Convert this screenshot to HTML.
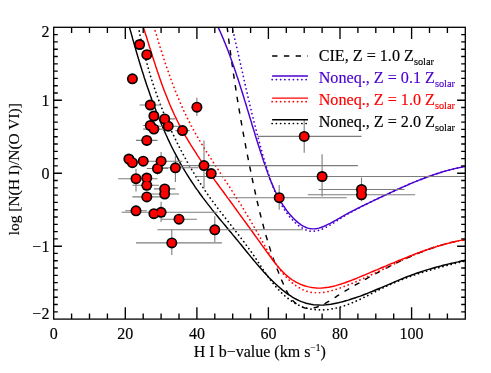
<!DOCTYPE html>
<html><head><meta charset="utf-8"><title>plot</title>
<style>html,body{margin:0;padding:0;background:#fff}body{width:491px;height:373px;position:relative;overflow:hidden;font-family:"Liberation Serif",serif}</style></head>
<body>
<svg width="491" height="373" viewBox="0 0 491 373" style="position:absolute;left:0;top:0;will-change:transform">
<rect width="491" height="373" fill="#fff"/>
<defs><clipPath id="c"><rect x="53.7" y="27.3" width="411.6" height="291.8"/></clipPath></defs>
<g clip-path="url(#c)" fill="none" stroke-linecap="butt" stroke-linejoin="round">
<path d="M227.1 26.8 L227.4 29.2 L227.7 31.5 L228.0 33.9 L228.3 36.3 L228.6 38.6 L228.9 41.0 L229.2 43.3 L229.5 45.7 L229.8 48.0 L230.2 50.4 L230.5 52.8 L230.8 55.1 L231.1 57.5 L231.5 59.8 L231.8 62.2 L232.1 64.5 L232.5 66.9 L232.8 69.3 L233.2 71.6 L233.5 74.0 L233.9 76.3 L234.2 78.7 L234.6 81.1 L234.9 83.4 L235.3 85.8 L235.7 88.1 L236.0 90.5 L236.4 92.8 L236.8 95.2 L237.1 97.5 L237.5 99.9 L237.9 102.2 L238.3 104.6 L238.7 106.9 L239.1 109.3 L239.5 111.7 L239.9 114.0 L240.3 116.4 L240.7 118.7 L241.1 121.1 L241.5 123.4 L241.9 125.8 L242.4 128.1 L242.8 130.4 L243.2 132.8 L243.6 135.1 L244.1 137.5 L244.5 139.8 L244.9 142.2 L245.4 144.5 L245.8 146.9 L246.3 149.2 L246.7 151.5 L247.2 153.9 L247.6 156.2 L248.1 158.5 L248.6 160.9 L249.0 163.2 L249.5 165.6 L250.0 167.9 L250.5 170.2 L250.9 172.6 L251.4 174.9 L251.9 177.2 L252.4 179.5 L252.9 181.9 L253.4 184.2 L253.9 186.5 L254.4 188.8 L254.9 191.2 L255.4 193.5 L255.9 195.8 L256.5 198.1 L257.0 200.4 L257.5 202.8 L258.1 205.1 L258.6 207.4 L259.2 209.7 L259.7 212.0 L260.3 214.3 L260.9 216.6 L261.5 218.9 L262.1 221.2 L262.7 223.5 L263.3 225.8 L263.9 228.1 L264.5 230.4 L265.2 232.7 L265.8 235.0 L266.5 237.2 L267.2 239.5 L267.8 241.8 L268.5 244.1 L269.3 246.4 L270.0 248.6 L270.7 250.9 L271.5 253.2 L272.2 255.4 L273.0 257.7 L273.8 259.9 L274.6 262.2 L275.4 264.4 L276.3 266.7 L277.1 268.9 L278.0 271.1 L278.9 273.4 L279.8 275.6 L280.7 277.8 L281.6 280.1 L282.6 282.3 L283.6 284.5 L284.6 286.7 L285.6 288.9 L286.7 291.1 L287.8 293.2 L289.0 295.3 L290.3 297.3 L291.7 299.1 L293.2 300.9 L294.8 302.6 L296.7 304.1 L298.6 305.4 L300.6 306.5 L302.8 307.4 L305.0 308.0 L307.2 308.4 L309.5 308.4 L311.8 308.2 L314.1 307.8 L316.4 307.2 L318.7 306.5 L320.9 305.6 L323.0 304.5 L325.2 303.4 L327.3 302.2 L329.4 301.0 L331.5 299.7 L333.5 298.4 L335.6 297.1 L337.6 295.7 L339.7 294.5 L341.7 293.2 L343.7 291.9 L345.8 290.7 L347.8 289.5 L349.8 288.3 L351.8 287.1 L353.9 285.9 L355.9 284.7 L357.9 283.6 L360.0 282.4 L362.0 281.2 L364.1 280.1 L366.2 278.9 L368.2 277.7 L370.3 276.6 L372.4 275.4 L374.5 274.3 L376.6 273.2 L378.7 272.0 L380.8 270.9 L382.9 269.8 L385.0 268.7 L387.1 267.6 L389.3 266.5 L391.4 265.4 L393.5 264.4 L395.7 263.3 L397.8 262.3 L400.0 261.2 L402.2 260.2 L404.3 259.2 L406.5 258.2 L408.7 257.3 L410.9 256.3 L413.1 255.4 L415.3 254.5 L417.5 253.5 L419.7 252.7 L421.9 251.8 L424.1 250.9 L426.4 250.1 L428.6 249.3 L430.8 248.5 L433.1 247.7 L435.4 247.0 L437.6 246.3 L439.9 245.6 L442.2 244.9 L444.5 244.3 L446.8 243.6 L449.1 243.0 L451.4 242.5 L453.7 241.9 L456.0 241.4 L458.3 240.9 L460.7 240.5 L463.0 240.0 L465.4 239.6" stroke="#000" stroke-width="1.45" stroke-dasharray="5.4 6.38"/>
<path d="M218.0 26.7 L218.8 28.6 L219.6 30.4 L220.4 32.2 L221.2 34.0 L222.0 35.9 L222.8 37.7 L223.6 39.5 L224.3 41.4 L225.1 43.2 L225.8 45.1 L226.5 46.9 L227.3 48.8 L228.0 50.6 L228.7 52.5 L229.4 54.4 L230.1 56.2 L230.7 58.1 L231.4 59.9 L232.1 61.8 L232.8 63.7 L233.4 65.6 L234.1 67.4 L234.7 69.3 L235.4 71.2 L236.0 73.1 L236.6 75.0 L237.2 76.8 L237.9 78.7 L238.5 80.6 L239.1 82.5 L239.7 84.4 L240.3 86.3 L240.9 88.2 L241.5 90.1 L242.1 92.0 L242.7 93.8 L243.3 95.7 L243.9 97.6 L244.4 99.5 L245.0 101.4 L245.6 103.3 L246.2 105.2 L246.8 107.1 L247.3 109.0 L247.9 110.9 L248.5 112.8 L249.1 114.7 L249.6 116.6 L250.2 118.5 L250.8 120.4 L251.4 122.3 L251.9 124.3 L252.5 126.2 L253.1 128.1 L253.7 130.0 L254.3 131.9 L254.9 133.8 L255.4 135.7 L256.0 137.6 L256.6 139.5 L257.2 141.4 L257.8 143.3 L258.4 145.2 L259.0 147.0 L259.6 148.9 L260.2 150.8 L260.8 152.7 L261.5 154.6 L262.1 156.5 L262.7 158.4 L263.3 160.3 L264.0 162.2 L264.6 164.1 L265.3 166.0 L265.9 167.8 L266.6 169.7 L267.3 171.6 L267.9 173.5 L268.6 175.3 L269.3 177.2 L270.0 179.1 L270.8 180.9 L271.5 182.8 L272.3 184.6 L273.1 186.4 L273.9 188.2 L274.7 190.1 L275.5 191.8 L276.4 193.6 L277.3 195.4 L278.2 197.2 L279.2 198.9 L280.2 200.6 L281.2 202.3 L282.3 204.0 L283.3 205.7 L284.5 207.3 L285.6 209.0 L286.8 210.6 L288.1 212.2 L289.3 213.7 L290.7 215.3 L292.0 216.8 L293.4 218.3 L294.9 219.7 L296.4 221.1 L297.9 222.4 L299.5 223.7 L301.1 224.8 L302.7 225.8 L304.4 226.7 L306.1 227.5 L307.9 228.1 L309.6 228.5 L311.5 228.8 L313.3 228.9 L315.1 228.8 L317.0 228.5 L318.9 228.1 L320.8 227.5 L322.7 226.8 L324.6 226.0 L326.5 225.1 L328.4 224.2 L330.2 223.3 L332.0 222.3 L333.8 221.3 L335.6 220.3 L337.3 219.3 L339.1 218.3 L340.8 217.3 L342.6 216.3 L344.3 215.3 L346.1 214.4 L347.8 213.4 L349.6 212.5 L351.3 211.6 L353.1 210.7 L354.9 209.8 L356.6 208.9 L358.4 208.0 L360.2 207.1 L361.9 206.2 L363.7 205.4 L365.5 204.5 L367.3 203.6 L369.0 202.8 L370.8 201.9 L372.6 201.1 L374.4 200.2 L376.2 199.4 L378.0 198.5 L379.7 197.7 L381.5 196.9 L383.3 196.0 L385.1 195.2 L386.9 194.3 L388.7 193.5 L390.5 192.6 L392.3 191.8 L394.1 191.0 L395.9 190.1 L397.7 189.3 L399.6 188.5 L401.4 187.7 L403.2 186.9 L405.0 186.1 L406.8 185.3 L408.7 184.5 L410.5 183.7 L412.3 182.9 L414.2 182.1 L416.0 181.4 L417.9 180.6 L419.7 179.9 L421.6 179.2 L423.4 178.5 L425.3 177.8 L427.1 177.1 L429.0 176.4 L430.9 175.7 L432.8 175.1 L434.6 174.4 L436.5 173.8 L438.4 173.2 L440.3 172.6 L442.2 172.0 L444.1 171.4 L446.0 170.9 L447.9 170.4 L449.9 169.9 L451.8 169.4 L453.7 168.9 L455.7 168.4 L457.6 168.0 L459.5 167.6 L461.5 167.2 L463.5 166.8 L465.4 166.5" stroke="#4a00d0" stroke-width="1.45"/>
<path d="M232.0 26.7 L232.5 28.7 L232.9 30.6 L233.4 32.6 L233.8 34.5 L234.3 36.4 L234.7 38.4 L235.1 40.3 L235.6 42.3 L236.0 44.2 L236.5 46.1 L236.9 48.1 L237.4 50.0 L237.8 51.9 L238.2 53.9 L238.7 55.8 L239.1 57.8 L239.5 59.7 L240.0 61.6 L240.4 63.6 L240.8 65.5 L241.3 67.4 L241.7 69.4 L242.2 71.3 L242.6 73.2 L243.0 75.2 L243.5 77.1 L243.9 79.0 L244.3 81.0 L244.8 82.9 L245.2 84.8 L245.7 86.8 L246.1 88.7 L246.6 90.6 L247.0 92.6 L247.4 94.5 L247.9 96.4 L248.3 98.4 L248.8 100.3 L249.3 102.2 L249.7 104.1 L250.2 106.1 L250.6 108.0 L251.1 109.9 L251.6 111.8 L252.0 113.8 L252.5 115.7 L253.0 117.6 L253.4 119.5 L253.9 121.5 L254.4 123.4 L254.9 125.3 L255.4 127.2 L255.9 129.2 L256.4 131.1 L256.8 133.0 L257.3 134.9 L257.9 136.8 L258.4 138.8 L258.9 140.7 L259.4 142.6 L259.9 144.5 L260.4 146.4 L261.0 148.3 L261.5 150.2 L262.0 152.2 L262.6 154.1 L263.1 156.0 L263.7 157.9 L264.2 159.8 L264.8 161.7 L265.3 163.6 L265.9 165.5 L266.5 167.4 L267.1 169.3 L267.7 171.2 L268.3 173.1 L268.9 175.0 L269.5 176.9 L270.1 178.8 L270.8 180.7 L271.4 182.6 L272.1 184.5 L272.8 186.3 L273.5 188.2 L274.3 190.0 L275.0 191.8 L275.8 193.7 L276.6 195.5 L277.5 197.3 L278.3 199.0 L279.2 200.8 L280.2 202.5 L281.1 204.3 L282.1 206.0 L283.2 207.7 L284.2 209.3 L285.4 211.0 L286.5 212.6 L287.7 214.2 L288.9 215.8 L290.2 217.4 L291.6 218.9 L293.0 220.4 L294.4 221.9 L295.9 223.3 L297.4 224.6 L298.9 225.9 L300.5 227.0 L302.2 228.1 L303.8 229.0 L305.5 229.8 L307.3 230.4 L309.1 230.9 L310.9 231.2 L312.7 231.3 L314.6 231.2 L316.4 231.0 L318.3 230.5 L320.2 229.9 L322.1 229.2 L324.0 228.3 L325.9 227.4 L327.7 226.4 L329.5 225.4 L331.3 224.3 L333.0 223.3 L334.7 222.2 L336.4 221.1 L338.1 220.0 L339.7 218.9 L341.4 217.9 L343.1 216.8 L344.8 215.8 L346.5 214.8 L348.2 213.8 L349.9 212.8 L351.7 211.9 L353.4 210.9 L355.1 210.0 L356.9 209.0 L358.6 208.1 L360.4 207.2 L362.1 206.3 L363.9 205.4 L365.7 204.5 L367.4 203.7 L369.2 202.8 L371.0 201.9 L372.8 201.1 L374.5 200.2 L376.3 199.3 L378.1 198.5 L379.9 197.6 L381.7 196.8 L383.5 195.9 L385.3 195.1 L387.1 194.2 L388.9 193.4 L390.7 192.5 L392.5 191.7 L394.3 190.9 L396.1 190.0 L397.9 189.2 L399.7 188.4 L401.5 187.6 L403.3 186.8 L405.1 186.0 L407.0 185.2 L408.8 184.4 L410.6 183.6 L412.4 182.8 L414.3 182.1 L416.1 181.3 L417.9 180.6 L419.8 179.9 L421.6 179.1 L423.5 178.4 L425.3 177.7 L427.2 177.0 L429.1 176.4 L430.9 175.7 L432.8 175.1 L434.7 174.4 L436.6 173.8 L438.5 173.2 L440.3 172.6 L442.2 172.0 L444.1 171.5 L446.1 170.9 L448.0 170.4 L449.9 169.9 L451.8 169.4 L453.7 168.9 L455.7 168.5 L457.6 168.0 L459.6 167.6 L461.5 167.2 L463.5 166.8 L465.4 166.5" stroke="#4a00d0" stroke-width="1.7" stroke-dasharray="0.1 4.15" stroke-linecap="round"/>
<path d="M143.3 26.8 L144.0 29.1 L144.7 31.4 L145.4 33.7 L146.2 36.0 L146.9 38.3 L147.6 40.6 L148.3 42.9 L149.0 45.2 L149.7 47.5 L150.5 49.8 L151.2 52.1 L151.9 54.4 L152.6 56.7 L153.4 59.0 L154.1 61.3 L154.9 63.6 L155.6 65.9 L156.4 68.2 L157.1 70.5 L157.9 72.8 L158.7 75.1 L159.5 77.4 L160.3 79.7 L161.1 81.9 L161.9 84.2 L162.7 86.5 L163.6 88.7 L164.4 91.0 L165.3 93.3 L166.2 95.5 L167.1 97.8 L168.0 100.0 L168.9 102.2 L169.8 104.5 L170.8 106.7 L171.7 108.9 L172.7 111.1 L173.7 113.3 L174.7 115.5 L175.8 117.6 L176.8 119.8 L177.9 122.0 L179.0 124.1 L180.1 126.2 L181.2 128.4 L182.4 130.5 L183.6 132.6 L184.7 134.7 L185.9 136.8 L187.2 138.9 L188.4 141.0 L189.7 143.0 L190.9 145.1 L192.2 147.1 L193.5 149.2 L194.8 151.2 L196.1 153.2 L197.4 155.3 L198.8 157.3 L200.1 159.3 L201.5 161.3 L202.8 163.3 L204.2 165.3 L205.6 167.3 L207.0 169.3 L208.4 171.3 L209.8 173.2 L211.2 175.2 L212.6 177.2 L214.0 179.1 L215.4 181.1 L216.8 183.0 L218.3 185.0 L219.7 187.0 L221.1 188.9 L222.5 190.8 L224.0 192.8 L225.4 194.7 L226.8 196.7 L228.2 198.6 L229.7 200.5 L231.1 202.5 L232.5 204.4 L233.9 206.3 L235.3 208.3 L236.7 210.2 L238.1 212.1 L239.5 214.1 L240.9 216.0 L242.3 217.9 L243.7 219.9 L245.1 221.8 L246.6 223.8 L248.0 225.7 L249.4 227.6 L250.8 229.6 L252.2 231.5 L253.6 233.5 L255.0 235.5 L256.4 237.4 L257.8 239.4 L259.3 241.4 L260.7 243.3 L262.1 245.3 L263.5 247.3 L265.0 249.3 L266.4 251.3 L267.8 253.3 L269.3 255.3 L270.8 257.3 L272.2 259.3 L273.7 261.3 L275.3 263.2 L276.8 265.1 L278.4 267.0 L280.0 268.9 L281.6 270.6 L283.3 272.4 L285.0 274.0 L286.8 275.6 L288.6 277.2 L290.5 278.6 L292.4 280.0 L294.4 281.2 L296.5 282.4 L298.6 283.4 L300.7 284.4 L302.9 285.2 L305.2 286.0 L307.5 286.6 L309.8 287.1 L312.1 287.5 L314.4 287.8 L316.8 288.0 L319.1 288.1 L321.5 288.0 L323.9 287.8 L326.3 287.5 L328.7 287.2 L331.0 286.7 L333.4 286.2 L335.8 285.6 L338.1 284.9 L340.5 284.2 L342.8 283.4 L345.1 282.7 L347.4 281.8 L349.7 281.0 L352.0 280.1 L354.3 279.2 L356.5 278.3 L358.8 277.4 L361.0 276.4 L363.3 275.5 L365.5 274.6 L367.8 273.6 L370.0 272.7 L372.2 271.7 L374.5 270.8 L376.7 269.9 L378.9 268.9 L381.1 268.0 L383.4 267.0 L385.6 266.1 L387.8 265.1 L390.0 264.2 L392.3 263.3 L394.5 262.3 L396.7 261.4 L398.9 260.5 L401.1 259.6 L403.4 258.7 L405.6 257.8 L407.8 256.9 L410.1 256.0 L412.3 255.1 L414.5 254.3 L416.8 253.4 L419.0 252.6 L421.3 251.8 L423.5 251.0 L425.8 250.2 L428.1 249.4 L430.4 248.6 L432.6 247.9 L434.9 247.2 L437.2 246.4 L439.5 245.7 L441.8 245.1 L444.1 244.4 L446.5 243.8 L448.8 243.1 L451.1 242.5 L453.5 242.0 L455.9 241.4 L458.2 240.9 L460.6 240.4 L463.0 239.9 L465.4 239.4" stroke="#f00" stroke-width="1.45"/>
<path d="M154.0 26.8 L154.7 29.1 L155.3 31.4 L156.0 33.7 L156.7 36.0 L157.4 38.3 L158.1 40.5 L158.8 42.8 L159.5 45.1 L160.2 47.4 L161.0 49.7 L161.7 52.0 L162.4 54.3 L163.2 56.6 L163.9 58.9 L164.7 61.2 L165.4 63.5 L166.2 65.8 L167.0 68.1 L167.8 70.3 L168.6 72.6 L169.4 74.9 L170.2 77.2 L171.0 79.4 L171.9 81.7 L172.7 84.0 L173.6 86.2 L174.4 88.5 L175.3 90.7 L176.2 93.0 L177.1 95.2 L178.0 97.4 L179.0 99.7 L179.9 101.9 L180.9 104.1 L181.8 106.3 L182.8 108.5 L183.8 110.7 L184.8 112.9 L185.9 115.1 L186.9 117.2 L188.0 119.4 L189.1 121.5 L190.2 123.7 L191.3 125.8 L192.4 127.9 L193.6 130.0 L194.7 132.1 L195.9 134.2 L197.1 136.3 L198.3 138.3 L199.5 140.4 L200.7 142.5 L202.0 144.5 L203.2 146.6 L204.5 148.6 L205.8 150.6 L207.1 152.7 L208.4 154.7 L209.7 156.7 L211.0 158.7 L212.3 160.8 L213.6 162.8 L214.9 164.8 L216.2 166.8 L217.6 168.8 L218.9 170.8 L220.2 172.8 L221.5 174.8 L222.9 176.8 L224.2 178.8 L225.5 180.9 L226.9 182.9 L228.2 184.9 L229.5 186.9 L230.8 188.9 L232.1 191.0 L233.4 193.0 L234.7 195.0 L236.0 197.1 L237.3 199.1 L238.6 201.1 L239.9 203.2 L241.2 205.2 L242.4 207.3 L243.7 209.3 L244.9 211.4 L246.2 213.5 L247.4 215.5 L248.7 217.6 L249.9 219.7 L251.1 221.7 L252.3 223.8 L253.5 225.9 L254.7 228.0 L255.9 230.0 L257.1 232.1 L258.3 234.2 L259.5 236.3 L260.6 238.4 L261.8 240.4 L262.9 242.5 L264.1 244.6 L265.3 246.7 L266.4 248.7 L267.6 250.8 L268.8 252.9 L270.0 254.9 L271.3 257.0 L272.5 259.0 L273.8 261.0 L275.2 263.0 L276.5 265.0 L277.9 267.0 L279.4 268.9 L280.9 270.9 L282.4 272.8 L284.0 274.7 L285.7 276.5 L287.4 278.4 L289.2 280.1 L291.0 281.8 L292.9 283.4 L294.8 284.9 L296.8 286.3 L298.9 287.6 L301.0 288.8 L303.1 289.9 L305.3 290.8 L307.5 291.5 L309.8 292.1 L312.0 292.5 L314.3 292.7 L316.6 292.8 L318.9 292.8 L321.2 292.7 L323.6 292.4 L325.9 292.0 L328.2 291.5 L330.5 291.0 L332.9 290.3 L335.2 289.6 L337.5 288.9 L339.8 288.1 L342.1 287.3 L344.4 286.4 L346.7 285.5 L349.0 284.6 L351.3 283.7 L353.5 282.8 L355.7 281.9 L358.0 280.9 L360.2 279.9 L362.4 279.0 L364.6 278.0 L366.8 277.0 L369.0 275.9 L371.2 274.9 L373.4 273.9 L375.6 272.9 L377.7 271.8 L379.9 270.8 L382.1 269.7 L384.2 268.7 L386.4 267.7 L388.6 266.6 L390.7 265.6 L392.9 264.5 L395.1 263.5 L397.2 262.5 L399.4 261.4 L401.6 260.4 L403.7 259.4 L405.9 258.4 L408.1 257.5 L410.3 256.5 L412.5 255.5 L414.7 254.6 L416.9 253.7 L419.1 252.8 L421.3 251.9 L423.5 251.0 L425.7 250.1 L428.0 249.3 L430.2 248.5 L432.5 247.7 L434.8 247.0 L437.0 246.2 L439.3 245.5 L441.7 244.9 L444.0 244.2 L446.3 243.6 L448.7 243.0 L451.0 242.5 L453.4 241.9 L455.8 241.5 L458.2 241.0 L460.6 240.6 L463.1 240.2 L465.6 239.9" stroke="#f00" stroke-width="1.7" stroke-dasharray="0.1 4.15" stroke-linecap="round"/>
<path d="M129.4 26.8 L130.0 29.2 L130.7 31.6 L131.4 34.1 L132.1 36.5 L132.7 38.9 L133.4 41.3 L134.1 43.8 L134.8 46.2 L135.5 48.6 L136.2 51.0 L136.9 53.5 L137.6 55.9 L138.3 58.3 L139.1 60.7 L139.8 63.2 L140.5 65.6 L141.3 68.0 L142.0 70.4 L142.8 72.8 L143.6 75.3 L144.3 77.7 L145.1 80.1 L145.9 82.5 L146.7 84.9 L147.5 87.3 L148.4 89.7 L149.2 92.1 L150.0 94.5 L150.9 96.9 L151.7 99.3 L152.6 101.7 L153.5 104.1 L154.4 106.4 L155.3 108.8 L156.2 111.2 L157.1 113.5 L158.0 115.9 L159.0 118.2 L159.9 120.6 L160.9 122.9 L161.9 125.3 L162.9 127.6 L163.9 129.9 L164.9 132.2 L165.9 134.5 L167.0 136.8 L168.0 139.1 L169.1 141.4 L170.2 143.7 L171.3 146.0 L172.4 148.2 L173.6 150.5 L174.7 152.7 L175.9 154.9 L177.1 157.2 L178.3 159.4 L179.5 161.6 L180.7 163.8 L182.0 166.0 L183.2 168.2 L184.5 170.3 L185.8 172.5 L187.1 174.6 L188.5 176.8 L189.8 178.9 L191.2 181.0 L192.6 183.1 L194.0 185.2 L195.4 187.3 L196.9 189.4 L198.4 191.4 L199.8 193.5 L201.3 195.5 L202.8 197.6 L204.4 199.6 L205.9 201.6 L207.4 203.6 L209.0 205.6 L210.6 207.6 L212.1 209.6 L213.7 211.6 L215.3 213.6 L216.9 215.5 L218.5 217.5 L220.1 219.5 L221.7 221.4 L223.4 223.4 L225.0 225.3 L226.6 227.3 L228.2 229.2 L229.8 231.2 L231.5 233.1 L233.1 235.1 L234.7 237.0 L236.3 239.0 L237.9 240.9 L239.5 242.9 L241.1 244.8 L242.7 246.8 L244.3 248.8 L245.9 250.7 L247.5 252.7 L249.1 254.6 L250.7 256.6 L252.3 258.5 L253.9 260.5 L255.5 262.4 L257.1 264.3 L258.8 266.2 L260.4 268.1 L262.1 270.0 L263.8 271.9 L265.5 273.7 L267.2 275.6 L268.9 277.4 L270.7 279.2 L272.5 281.0 L274.3 282.8 L276.2 284.5 L278.1 286.2 L280.0 287.9 L282.0 289.6 L284.0 291.2 L286.1 292.8 L288.1 294.3 L290.3 295.7 L292.4 297.1 L294.6 298.3 L296.8 299.5 L299.1 300.6 L301.4 301.6 L303.7 302.4 L306.1 303.2 L308.5 303.8 L311.0 304.3 L313.4 304.7 L315.9 304.9 L318.4 305.0 L320.9 305.1 L323.4 305.0 L325.9 304.8 L328.4 304.5 L330.9 304.2 L333.4 303.7 L335.9 303.2 L338.4 302.7 L340.9 302.1 L343.4 301.5 L345.8 300.8 L348.3 300.1 L350.7 299.3 L353.1 298.5 L355.5 297.7 L357.9 296.9 L360.3 296.1 L362.7 295.2 L365.0 294.3 L367.4 293.4 L369.7 292.4 L372.1 291.5 L374.4 290.5 L376.7 289.5 L379.1 288.5 L381.4 287.6 L383.7 286.6 L386.0 285.6 L388.4 284.6 L390.7 283.6 L393.0 282.6 L395.3 281.6 L397.7 280.6 L400.0 279.6 L402.3 278.7 L404.7 277.7 L407.0 276.8 L409.4 275.9 L411.8 275.0 L414.1 274.1 L416.5 273.3 L418.9 272.5 L421.3 271.7 L423.7 270.9 L426.1 270.1 L428.6 269.4 L431.0 268.7 L433.4 268.0 L435.9 267.3 L438.3 266.6 L440.8 266.0 L443.2 265.3 L445.7 264.7 L448.1 264.1 L450.6 263.5 L453.1 263.0 L455.5 262.4 L458.0 261.9 L460.5 261.3 L462.9 260.8 L465.4 260.3" stroke="#000" stroke-width="1.45"/>
<path d="M138.4 26.8 L138.8 29.2 L139.3 31.7 L139.8 34.2 L140.4 36.7 L140.9 39.1 L141.4 41.6 L142.0 44.1 L142.6 46.5 L143.2 49.0 L143.8 51.5 L144.4 53.9 L145.0 56.4 L145.7 58.8 L146.3 61.3 L147.0 63.7 L147.7 66.1 L148.4 68.6 L149.1 71.0 L149.8 73.4 L150.5 75.9 L151.3 78.3 L152.0 80.7 L152.8 83.1 L153.6 85.5 L154.4 87.9 L155.2 90.3 L156.1 92.7 L156.9 95.1 L157.8 97.5 L158.6 99.8 L159.5 102.2 L160.4 104.6 L161.3 107.0 L162.3 109.3 L163.2 111.7 L164.1 114.0 L165.1 116.3 L166.1 118.7 L167.1 121.0 L168.1 123.3 L169.1 125.6 L170.1 128.0 L171.2 130.3 L172.2 132.6 L173.3 134.8 L174.4 137.1 L175.5 139.4 L176.6 141.7 L177.7 143.9 L178.9 146.2 L180.0 148.5 L181.2 150.7 L182.4 152.9 L183.6 155.2 L184.8 157.4 L186.0 159.6 L187.2 161.8 L188.5 164.0 L189.7 166.2 L191.0 168.4 L192.3 170.5 L193.6 172.7 L194.9 174.9 L196.2 177.0 L197.6 179.1 L198.9 181.3 L200.3 183.4 L201.7 185.5 L203.1 187.6 L204.5 189.7 L205.9 191.8 L207.3 193.9 L208.8 195.9 L210.2 198.0 L211.7 200.0 L213.2 202.1 L214.7 204.1 L216.2 206.1 L217.7 208.1 L219.2 210.2 L220.8 212.2 L222.3 214.2 L223.9 216.1 L225.4 218.1 L227.0 220.1 L228.6 222.1 L230.1 224.1 L231.7 226.1 L233.2 228.1 L234.8 230.1 L236.4 232.1 L237.9 234.1 L239.5 236.1 L241.0 238.1 L242.5 240.1 L244.1 242.1 L245.6 244.2 L247.1 246.2 L248.6 248.3 L250.1 250.3 L251.6 252.4 L253.0 254.5 L254.5 256.6 L255.9 258.7 L257.3 260.8 L258.7 262.9 L260.1 265.1 L261.6 267.2 L263.0 269.3 L264.4 271.4 L265.8 273.5 L267.3 275.6 L268.8 277.7 L270.3 279.7 L271.8 281.7 L273.4 283.7 L275.0 285.7 L276.6 287.6 L278.3 289.5 L280.1 291.3 L281.8 293.1 L283.7 294.8 L285.6 296.5 L287.5 298.1 L289.6 299.6 L291.6 301.1 L293.7 302.4 L295.9 303.7 L298.1 304.9 L300.4 305.9 L302.7 306.9 L305.1 307.7 L307.5 308.4 L309.9 308.9 L312.4 309.3 L314.8 309.6 L317.3 309.8 L319.9 309.9 L322.4 309.9 L324.9 309.8 L327.4 309.6 L329.9 309.3 L332.3 308.9 L334.8 308.4 L337.2 307.8 L339.7 307.2 L342.1 306.5 L344.5 305.7 L346.8 304.9 L349.2 304.0 L351.6 303.0 L353.9 302.1 L356.3 301.0 L358.6 300.0 L360.9 298.9 L363.2 297.8 L365.5 296.6 L367.8 295.5 L370.1 294.3 L372.4 293.1 L374.7 292.0 L377.0 290.8 L379.3 289.7 L381.6 288.5 L383.9 287.4 L386.2 286.3 L388.5 285.3 L390.9 284.2 L393.2 283.2 L395.5 282.2 L397.8 281.3 L400.2 280.3 L402.5 279.4 L404.9 278.5 L407.2 277.6 L409.6 276.8 L411.9 275.9 L414.3 275.1 L416.7 274.3 L419.1 273.5 L421.5 272.8 L423.8 272.0 L426.2 271.3 L428.6 270.6 L431.1 269.9 L433.5 269.2 L435.9 268.5 L438.3 267.8 L440.7 267.2 L443.2 266.5 L445.6 265.9 L448.1 265.2 L450.5 264.6 L453.0 264.0 L455.5 263.3 L457.9 262.7 L460.4 262.1 L462.9 261.5 L465.4 260.9" stroke="#000" stroke-width="1.7" stroke-dasharray="0.1 4.15" stroke-linecap="round"/>
<path d="M139.6 105.0H161.1" stroke="#7c7c7c" stroke-width="1.1"/>
<path d="M196.9 115.9V97.7" stroke="#7c7c7c" stroke-width="1.1"/>
<path d="M153.9 118.9H175.4" stroke="#7c7c7c" stroke-width="1.1"/>
<path d="M143.2 125.5H157.5" stroke="#7c7c7c" stroke-width="1.1"/>
<path d="M143.2 129.1H164.7" stroke="#7c7c7c" stroke-width="1.1"/>
<path d="M153.9 126.2H182.5" stroke="#7c7c7c" stroke-width="1.1"/>
<path d="M175.4 130.6H189.7" stroke="#7c7c7c" stroke-width="1.1"/>
<path d="M136.0 140.4H157.5" stroke="#7c7c7c" stroke-width="1.1"/>
<path d="M139.6 161.2H182.5" stroke="#7c7c7c" stroke-width="1.1"/>
<path d="M161.1 169.6V152.0" stroke="#7c7c7c" stroke-width="1.1"/>
<path d="M146.8 168.5H168.2" stroke="#7c7c7c" stroke-width="1.1"/>
<path d="M157.5 174.7V161.5" stroke="#7c7c7c" stroke-width="1.1"/>
<path d="M152.1 167.8H198.3" stroke="#7c7c7c" stroke-width="1.1"/>
<path d="M175.4 182.0V155.7" stroke="#7c7c7c" stroke-width="1.1"/>
<path d="M181.5 165.6H357.9" stroke="#7c7c7c" stroke-width="1.1"/>
<path d="M204.0 188.5V140.4" stroke="#7c7c7c" stroke-width="1.1"/>
<path d="M118.1 178.7H157.5" stroke="#7c7c7c" stroke-width="1.1"/>
<path d="M136.0 191.4V168.8" stroke="#7c7c7c" stroke-width="1.1"/>
<path d="M132.4 185.3H158.9" stroke="#7c7c7c" stroke-width="1.1"/>
<path d="M153.9 188.9H175.4" stroke="#7c7c7c" stroke-width="1.1"/>
<path d="M150.3 194.0H179.0" stroke="#7c7c7c" stroke-width="1.1"/>
<path d="M132.4 196.9H161.1" stroke="#7c7c7c" stroke-width="1.1"/>
<path d="M125.3 210.8H146.8" stroke="#7c7c7c" stroke-width="1.1"/>
<path d="M121.7 212.3H217.6" stroke="#7c7c7c" stroke-width="1.1"/>
<path d="M161.1 222.1V201.7" stroke="#7c7c7c" stroke-width="1.1"/>
<path d="M161.1 219.2H196.9" stroke="#7c7c7c" stroke-width="1.1"/>
<path d="M157.5 229.8H302.8" stroke="#7c7c7c" stroke-width="1.1"/>
<path d="M214.8 242.1V216.2" stroke="#7c7c7c" stroke-width="1.1"/>
<path d="M136.0 242.9H221.9" stroke="#7c7c7c" stroke-width="1.1"/>
<path d="M171.8 254.9V229.4" stroke="#7c7c7c" stroke-width="1.1"/>
<path d="M257.7 136.4H361.5" stroke="#7c7c7c" stroke-width="1.1"/>
<path d="M304.2 152.8V119.9" stroke="#7c7c7c" stroke-width="1.1"/>
<path d="M196.5 176.5H465.3" stroke="#7c7c7c" stroke-width="1.1"/>
<path d="M322.1 196.5V154.2" stroke="#7c7c7c" stroke-width="1.1"/>
<path d="M229.1 197.7H346.8" stroke="#7c7c7c" stroke-width="1.1"/>
<path d="M279.2 209.7V184.9" stroke="#7c7c7c" stroke-width="1.1"/>
<path d="M318.6 189.5H404.5" stroke="#7c7c7c" stroke-width="1.1"/>
<path d="M307.8 194.8H415.2" stroke="#7c7c7c" stroke-width="1.1"/>
<path d="M361.5 201.3V177.6" stroke="#7c7c7c" stroke-width="1.1"/>
<circle cx="139.6" cy="44.5" r="5.5" fill="#000"/>
<circle cx="146.8" cy="54.7" r="5.5" fill="#000"/>
<circle cx="132.4" cy="78.8" r="5.5" fill="#000"/>
<circle cx="150.3" cy="105.0" r="5.5" fill="#000"/>
<circle cx="196.9" cy="107.2" r="5.5" fill="#000"/>
<circle cx="153.9" cy="116.0" r="5.5" fill="#000"/>
<circle cx="164.7" cy="118.9" r="5.5" fill="#000"/>
<circle cx="150.3" cy="125.5" r="5.5" fill="#000"/>
<circle cx="153.9" cy="129.1" r="5.5" fill="#000"/>
<circle cx="168.2" cy="126.2" r="5.5" fill="#000"/>
<circle cx="182.5" cy="130.6" r="5.5" fill="#000"/>
<circle cx="146.8" cy="140.4" r="5.5" fill="#000"/>
<circle cx="128.9" cy="159.0" r="5.5" fill="#000"/>
<circle cx="132.4" cy="162.7" r="5.5" fill="#000"/>
<circle cx="143.2" cy="161.2" r="5.5" fill="#000"/>
<circle cx="161.1" cy="161.2" r="5.5" fill="#000"/>
<circle cx="157.5" cy="168.5" r="5.5" fill="#000"/>
<circle cx="175.4" cy="167.8" r="5.5" fill="#000"/>
<circle cx="204.0" cy="165.6" r="5.5" fill="#000"/>
<circle cx="211.2" cy="173.6" r="5.5" fill="#000"/>
<circle cx="136.0" cy="178.7" r="5.5" fill="#000"/>
<circle cx="146.8" cy="178.0" r="5.5" fill="#000"/>
<circle cx="146.8" cy="185.3" r="5.5" fill="#000"/>
<circle cx="164.7" cy="188.9" r="5.5" fill="#000"/>
<circle cx="164.7" cy="194.0" r="5.5" fill="#000"/>
<circle cx="146.8" cy="196.9" r="5.5" fill="#000"/>
<circle cx="136.0" cy="210.8" r="5.5" fill="#000"/>
<circle cx="153.9" cy="213.7" r="5.5" fill="#000"/>
<circle cx="161.1" cy="212.3" r="5.5" fill="#000"/>
<circle cx="179.0" cy="219.2" r="5.5" fill="#000"/>
<circle cx="214.8" cy="229.8" r="5.5" fill="#000"/>
<circle cx="171.8" cy="242.9" r="5.5" fill="#000"/>
<circle cx="304.2" cy="136.4" r="5.5" fill="#000"/>
<circle cx="322.1" cy="176.5" r="5.5" fill="#000"/>
<circle cx="279.2" cy="197.7" r="5.5" fill="#000"/>
<circle cx="361.5" cy="189.5" r="5.5" fill="#000"/>
<circle cx="361.5" cy="194.8" r="5.5" fill="#000"/>
<circle cx="139.6" cy="44.5" r="3.85" fill="#f00"/>
<circle cx="146.8" cy="54.7" r="3.85" fill="#f00"/>
<circle cx="132.4" cy="78.8" r="3.85" fill="#f00"/>
<circle cx="150.3" cy="105.0" r="3.85" fill="#f00"/>
<circle cx="196.9" cy="107.2" r="3.85" fill="#f00"/>
<circle cx="153.9" cy="116.0" r="3.85" fill="#f00"/>
<circle cx="164.7" cy="118.9" r="3.85" fill="#f00"/>
<circle cx="150.3" cy="125.5" r="3.85" fill="#f00"/>
<circle cx="153.9" cy="129.1" r="3.85" fill="#f00"/>
<circle cx="168.2" cy="126.2" r="3.85" fill="#f00"/>
<circle cx="182.5" cy="130.6" r="3.85" fill="#f00"/>
<circle cx="146.8" cy="140.4" r="3.85" fill="#f00"/>
<circle cx="128.9" cy="159.0" r="3.85" fill="#f00"/>
<circle cx="132.4" cy="162.7" r="3.85" fill="#f00"/>
<circle cx="143.2" cy="161.2" r="3.85" fill="#f00"/>
<circle cx="161.1" cy="161.2" r="3.85" fill="#f00"/>
<circle cx="157.5" cy="168.5" r="3.85" fill="#f00"/>
<circle cx="175.4" cy="167.8" r="3.85" fill="#f00"/>
<circle cx="204.0" cy="165.6" r="3.85" fill="#f00"/>
<circle cx="211.2" cy="173.6" r="3.85" fill="#f00"/>
<circle cx="136.0" cy="178.7" r="3.85" fill="#f00"/>
<circle cx="146.8" cy="178.0" r="3.85" fill="#f00"/>
<circle cx="146.8" cy="185.3" r="3.85" fill="#f00"/>
<circle cx="164.7" cy="188.9" r="3.85" fill="#f00"/>
<circle cx="164.7" cy="194.0" r="3.85" fill="#f00"/>
<circle cx="146.8" cy="196.9" r="3.85" fill="#f00"/>
<circle cx="136.0" cy="210.8" r="3.85" fill="#f00"/>
<circle cx="153.9" cy="213.7" r="3.85" fill="#f00"/>
<circle cx="161.1" cy="212.3" r="3.85" fill="#f00"/>
<circle cx="179.0" cy="219.2" r="3.85" fill="#f00"/>
<circle cx="214.8" cy="229.8" r="3.85" fill="#f00"/>
<circle cx="171.8" cy="242.9" r="3.85" fill="#f00"/>
<circle cx="304.2" cy="136.4" r="3.85" fill="#f00"/>
<circle cx="322.1" cy="176.5" r="3.85" fill="#f00"/>
<circle cx="279.2" cy="197.7" r="3.85" fill="#f00"/>
<circle cx="361.5" cy="189.5" r="3.85" fill="#f00"/>
<circle cx="361.5" cy="194.8" r="3.85" fill="#f00"/>
</g>
<rect x="53.7" y="27.3" width="411.6" height="291.8" fill="none" stroke="#000" stroke-width="1.3"/>
<path d="M71.6 319.1v-5.6M71.6 27.3v5.6M89.5 319.1v-5.6M89.5 27.3v5.6M107.4 319.1v-5.6M107.4 27.3v5.6M125.3 319.1v-11.8M125.3 27.3v11.8M143.2 319.1v-5.6M143.2 27.3v5.6M161.1 319.1v-5.6M161.1 27.3v5.6M179.0 319.1v-5.6M179.0 27.3v5.6M196.9 319.1v-11.8M196.9 27.3v11.8M214.8 319.1v-5.6M214.8 27.3v5.6M232.7 319.1v-5.6M232.7 27.3v5.6M250.6 319.1v-5.6M250.6 27.3v5.6M268.4 319.1v-11.8M268.4 27.3v11.8M286.3 319.1v-5.6M286.3 27.3v5.6M304.2 319.1v-5.6M304.2 27.3v5.6M322.1 319.1v-5.6M322.1 27.3v5.6M340.0 319.1v-11.8M340.0 27.3v11.8M357.9 319.1v-5.6M357.9 27.3v5.6M375.8 319.1v-5.6M375.8 27.3v5.6M393.7 319.1v-5.6M393.7 27.3v5.6M411.6 319.1v-11.8M411.6 27.3v11.8M429.5 319.1v-5.6M429.5 27.3v5.6M447.4 319.1v-5.6M447.4 27.3v5.6M53.7 311.8h4.1M465.3 311.8h-4.1M53.7 304.5h4.1M465.3 304.5h-4.1M53.7 297.2h4.1M465.3 297.2h-4.1M53.7 289.9h4.1M465.3 289.9h-4.1M53.7 282.6h4.1M465.3 282.6h-4.1M53.7 275.3h4.1M465.3 275.3h-4.1M53.7 268.0h4.1M465.3 268.0h-4.1M53.7 260.7h4.1M465.3 260.7h-4.1M53.7 253.4h4.1M465.3 253.4h-4.1M53.7 246.2h8.2M465.3 246.2h-8.2M53.7 238.9h4.1M465.3 238.9h-4.1M53.7 231.6h4.1M465.3 231.6h-4.1M53.7 224.3h4.1M465.3 224.3h-4.1M53.7 217.0h4.1M465.3 217.0h-4.1M53.7 209.7h4.1M465.3 209.7h-4.1M53.7 202.4h4.1M465.3 202.4h-4.1M53.7 195.1h4.1M465.3 195.1h-4.1M53.7 187.8h4.1M465.3 187.8h-4.1M53.7 180.5h4.1M465.3 180.5h-4.1M53.7 173.2h8.2M465.3 173.2h-8.2M53.7 165.9h4.1M465.3 165.9h-4.1M53.7 158.6h4.1M465.3 158.6h-4.1M53.7 151.3h4.1M465.3 151.3h-4.1M53.7 144.0h4.1M465.3 144.0h-4.1M53.7 136.7h4.1M465.3 136.7h-4.1M53.7 129.4h4.1M465.3 129.4h-4.1M53.7 122.1h4.1M465.3 122.1h-4.1M53.7 114.8h4.1M465.3 114.8h-4.1M53.7 107.5h4.1M465.3 107.5h-4.1M53.7 100.2h8.2M465.3 100.2h-8.2M53.7 93.0h4.1M465.3 93.0h-4.1M53.7 85.7h4.1M465.3 85.7h-4.1M53.7 78.4h4.1M465.3 78.4h-4.1M53.7 71.1h4.1M465.3 71.1h-4.1M53.7 63.8h4.1M465.3 63.8h-4.1M53.7 56.5h4.1M465.3 56.5h-4.1M53.7 49.2h4.1M465.3 49.2h-4.1M53.7 41.9h4.1M465.3 41.9h-4.1M53.7 34.6h4.1M465.3 34.6h-4.1" stroke="#000" stroke-width="1.35" fill="none"/>
<g fill="none" stroke-width="1.45">
<path d="M272.1 56H308.0" stroke="#000" stroke-dasharray="5.4 6.38"/>
<path d="M272.1 75.9H308.0" stroke="#4a00d0"/>
<path d="M272.1 79.6H308.0" stroke="#4a00d0" stroke-dasharray="0.1 4.15" stroke-linecap="round" style="stroke-width:1.7"/>
<path d="M272.1 98.1H308.0" stroke="#f00"/>
<path d="M272.1 101.7H308.0" stroke="#f00" stroke-dasharray="0.1 4.15" stroke-linecap="round" style="stroke-width:1.7"/>
<path d="M272.1 119.8H308.0" stroke="#000"/>
<path d="M272.1 123.5H308.0" stroke="#000" stroke-dasharray="0.1 4.15" stroke-linecap="round" style="stroke-width:1.7"/>
</g>
<g font-family="'Liberation Serif', serif" font-size="16px" fill="#000" stroke="#000" stroke-width="0.15">
<text x="53.7" y="339.2" text-anchor="middle">0</text>
<text x="125.3" y="339.2" text-anchor="middle">20</text>
<text x="196.9" y="339.2" text-anchor="middle">40</text>
<text x="268.4" y="339.2" text-anchor="middle">60</text>
<text x="340.0" y="339.2" text-anchor="middle">80</text>
<text x="411.6" y="339.2" text-anchor="middle">100</text>
<text x="49.4" y="36.8" text-anchor="end">2</text>
<text x="49.4" y="106.0" text-anchor="end">1</text>
<text x="49.4" y="179.0" text-anchor="end">0</text>
<text x="49.4" y="252.0" text-anchor="end">−1</text>
<text x="49.4" y="319.2" text-anchor="end">−2</text>
<text x="259.8" y="356.7" text-anchor="middle">H I b−value (km s<tspan font-size="9.5px" dy="-5.5">−1</tspan><tspan dy="5.5">)</tspan></text>
<text transform="translate(18.6 169.2) rotate(-90)" text-anchor="middle" font-size="15.45px">log [N(H I)/N(O VI)]</text>
<text x="318.7" y="61.1" fill="#000" stroke="#000" font-size="16.15px">CIE, Z = 1.0 Z<tspan font-size="10.3px" dy="3.7">solar</tspan></text>
<text x="318.7" y="83.0" fill="#4a00d0" stroke="#4a00d0" font-size="16.15px">Noneq., Z = 0.1 Z<tspan font-size="10.3px" dy="3.7">solar</tspan></text>
<text x="318.7" y="104.9" fill="#f00" stroke="#f00" font-size="16.15px">Noneq., Z = 1.0 Z<tspan font-size="10.3px" dy="3.7">solar</tspan></text>
<text x="318.7" y="126.8" fill="#000" stroke="#000" font-size="16.15px">Noneq., Z = 2.0 Z<tspan font-size="10.3px" dy="3.7">solar</tspan></text>
</g>
</svg>
</body></html>
